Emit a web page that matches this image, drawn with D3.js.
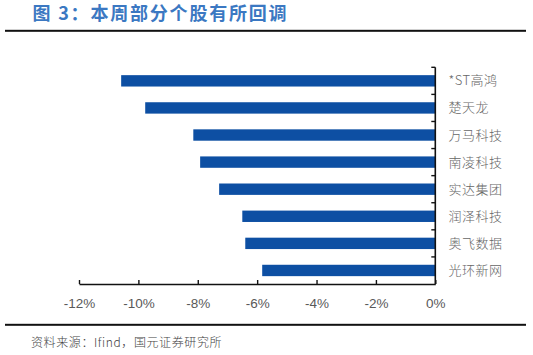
<!DOCTYPE html>
<html>
<head>
<meta charset="utf-8">
<script src="https://cdn.jsdelivr.net/npm/d3@7"></script>
<style>
html,body{margin:0;padding:0;background:#fff;}
svg{display:block;}
</style>
</head>
<body>
<svg id="chart" width="533" height="355"></svg>
<script>
const categories = ["*ST高鸿","楚天龙","万马科技","南凌科技","实达集团","润泽科技","奥飞数据","光环新网"];
const values = [-10.58, -9.77, -8.15, -7.92, -7.28, -6.50, -6.40, -5.83];
const tickValues = [-12, -10, -8, -6, -4, -2, 0];
const titleText = "图 3：本周部分个股有所回调";
const sourceText = "资料来源：Ifind，国元证券研究所";

const svg = d3.select("#chart");
const cjk = "'Noto Sans CJK SC','Noto Sans',sans-serif";
const latin = "'Liberation Sans',Arial,sans-serif";

// Title
svg.append("text")
  .attr("x", 32.5).attr("y", 20)
  .attr("font-family", cjk).attr("font-weight", "bold")
  .attr("font-size", 18).attr("letter-spacing", 1.8)
  .attr("fill", "#3b78c2")
  .text(titleText);

// rules
svg.append("rect").attr("x", 5).attr("y", 29.8).attr("width", 521).attr("height", 2).attr("fill", "#111");
svg.append("rect").attr("x", 5).attr("y", 323.8).attr("width", 521).attr("height", 2).attr("fill", "#111");

// scales
const x = d3.scaleLinear().domain([-12, 0]).range([79, 435.3]);
const y = d3.scaleBand().domain(categories).range([67.3, 284]).paddingInner(0.58).paddingOuter(0.29);

// bars
svg.append("g").selectAll("rect").data(categories).join("rect")
  .attr("x", (d, i) => x(values[i]))
  .attr("y", d => y(d))
  .attr("width", (d, i) => x(0) - x(values[i]))
  .attr("height", y.bandwidth())
  .attr("fill", "#0d4fa3");

// x axis
const xAxis = d3.axisBottom(x).tickValues(tickValues)
  .tickFormat(d => d + "%").tickSizeInner(-4).tickSizeOuter(0).tickPadding(14);
const gx = svg.append("g").attr("transform", "translate(0,284)").call(xAxis);
gx.select(".domain").attr("stroke", "#111").attr("stroke-width", 1.6);
gx.selectAll(".tick line").attr("stroke", "#111").attr("stroke-width", 1.4);
gx.selectAll(".tick text").attr("font-family", latin).attr("font-size", 13.5).attr("fill", "#595959");

// y axis (category boundaries, ticks pointing left)
const step = y.step();
const y0 = y.range()[0];
const gy = svg.append("g");
gy.append("line").attr("x1", x(0)).attr("x2", x(0)).attr("y1", y0).attr("y2", y.range()[1])
  .attr("stroke", "#111").attr("stroke-width", 1.6);
gy.selectAll("line.t").data(d3.range(categories.length)).join("line").attr("class", "t")
  .attr("x1", x(0) - 4).attr("x2", x(0))
  .attr("y1", i => y0 + i * step).attr("y2", i => y0 + i * step)
  .attr("stroke", "#111").attr("stroke-width", 1.4);
gy.selectAll("text").data(categories).join("text")
  .attr("x", 448.5).attr("y", d => y(d) + y.bandwidth() / 2)
  .attr("dy", "0.35em")
  .attr("font-family", cjk).attr("font-weight", 300).attr("font-size", 13).attr("letter-spacing", 0.5)
  .attr("fill", "#666")
  .text(d => d);

// source
svg.append("text")
  .attr("x", 31).attr("y", 346.5)
  .attr("font-family", cjk).attr("font-weight", 300).attr("font-size", 12).attr("letter-spacing", 0.6)
  .attr("fill", "#444")
  .text(sourceText);
</script>
</body>
</html>
